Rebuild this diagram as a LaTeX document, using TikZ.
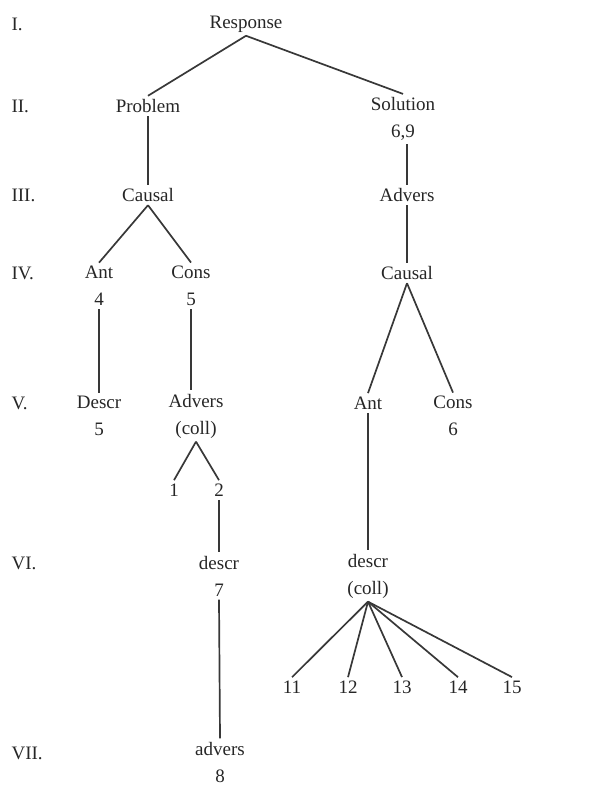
\documentclass[tikz,border=0pt]{standalone}
\usepackage{amsmath}
\usepackage{fontspec}
\setmainfont{Liberation Serif}
\usepackage{tikz}
\usetikzlibrary{positioning}

\begin{document}
\begin{tikzpicture}[x=1pt,y=-1pt]
		\tikzset{branch/.style = {draw=black!78, line width=1.7pt}}
		\tikzset{tnode/.style = {align=center, text=black!85, font=\fontsize{19}{27}\selectfont}}
		\tikzset{level/.style = {tnode, anchor=west}}
		\useasboundingbox (0,0) rectangle (613,786);
		\node[level] (rI) at (8,24) {I.};
		\node[level] (rII) at (8,106) {II.};
		\node[level] (rIII) at (8,195) {III.};
		\node[level] (rIV) at (8,273) {IV.};
		\node[level] (rV) at (8,403) {V.};
		\node[level] (rVI) at (8,563) {VI.};
		\node[level] (rVII) at (8,753) {VII.};
		\node[tnode] (resp) at (246,24) {Response};
		\node[tnode] (prob) at (148,106) {Problem};
		\node[tnode] (sol) at (403,119) {Solution\\6,9};
		\node[tnode] (caus) at (148,195) {Causal};
		\node[tnode] (adv) at (407,195) {Advers};
		\node[tnode] (ant) at (99,286) {Ant\\4};
		\node[tnode] (cons) at (191,286) {Cons\\5};
		\node[tnode] (causR) at (407,273) {Causal};
		\node[tnode] (descr) at (99,416) {Descr\\5};
		\node[tnode] (advc) at (196,416) {Advers\\(coll)};
		\node[tnode] (antR) at (368,403) {Ant};
		\node[tnode] (consR) at (453,416) {Cons\\6};
		\node[tnode] (one) at (174,490) {1};
		\node[tnode] (two) at (219,490) {2};
		\node[tnode] (dsc) at (219,576) {descr\\7};
		\node[tnode] (dscc) at (368,576) {descr\\(coll)};
		\node[tnode] (n11) at (292,687) {11};
		\node[tnode] (n12) at (348,687) {12};
		\node[tnode] (n13) at (402,687) {13};
		\node[tnode] (n14) at (458,687) {14};
		\node[tnode] (n15) at (512,687) {15};
		\node[tnode] (advs) at (220,762) {advers\\8};
		\draw[branch] (resp.south) edge (prob.north) edge (sol.north);
		\draw[branch] (prob) edge (caus);
		\draw[branch] (adv.north |- sol.south) edge (adv.north);
		\draw[branch] (caus.south) edge (ant.north) edge (cons.north);
		\draw[branch] (adv) edge (causR);
		\draw[branch] (ant.south) edge (descr.north);
		\draw[branch] (cons.south) edge (cons.south |- advc.north);
		\draw[branch] (causR.south) edge (antR.north) edge (consR.north);
		\draw[branch] (advc.south) edge (one.north) edge (two.north);
		\draw[branch] (two.south) edge (dsc.north);
		\draw[branch] (antR.south) edge (dscc.north);
		\draw[branch] (dsc.south) edge (advs.north);
		\draw[branch] (dscc.south) edge (n11.north) edge (n12.north) edge (n13.north)
			edge (n14.north) edge (n15.north);
	\end{tikzpicture}
\end{document}
